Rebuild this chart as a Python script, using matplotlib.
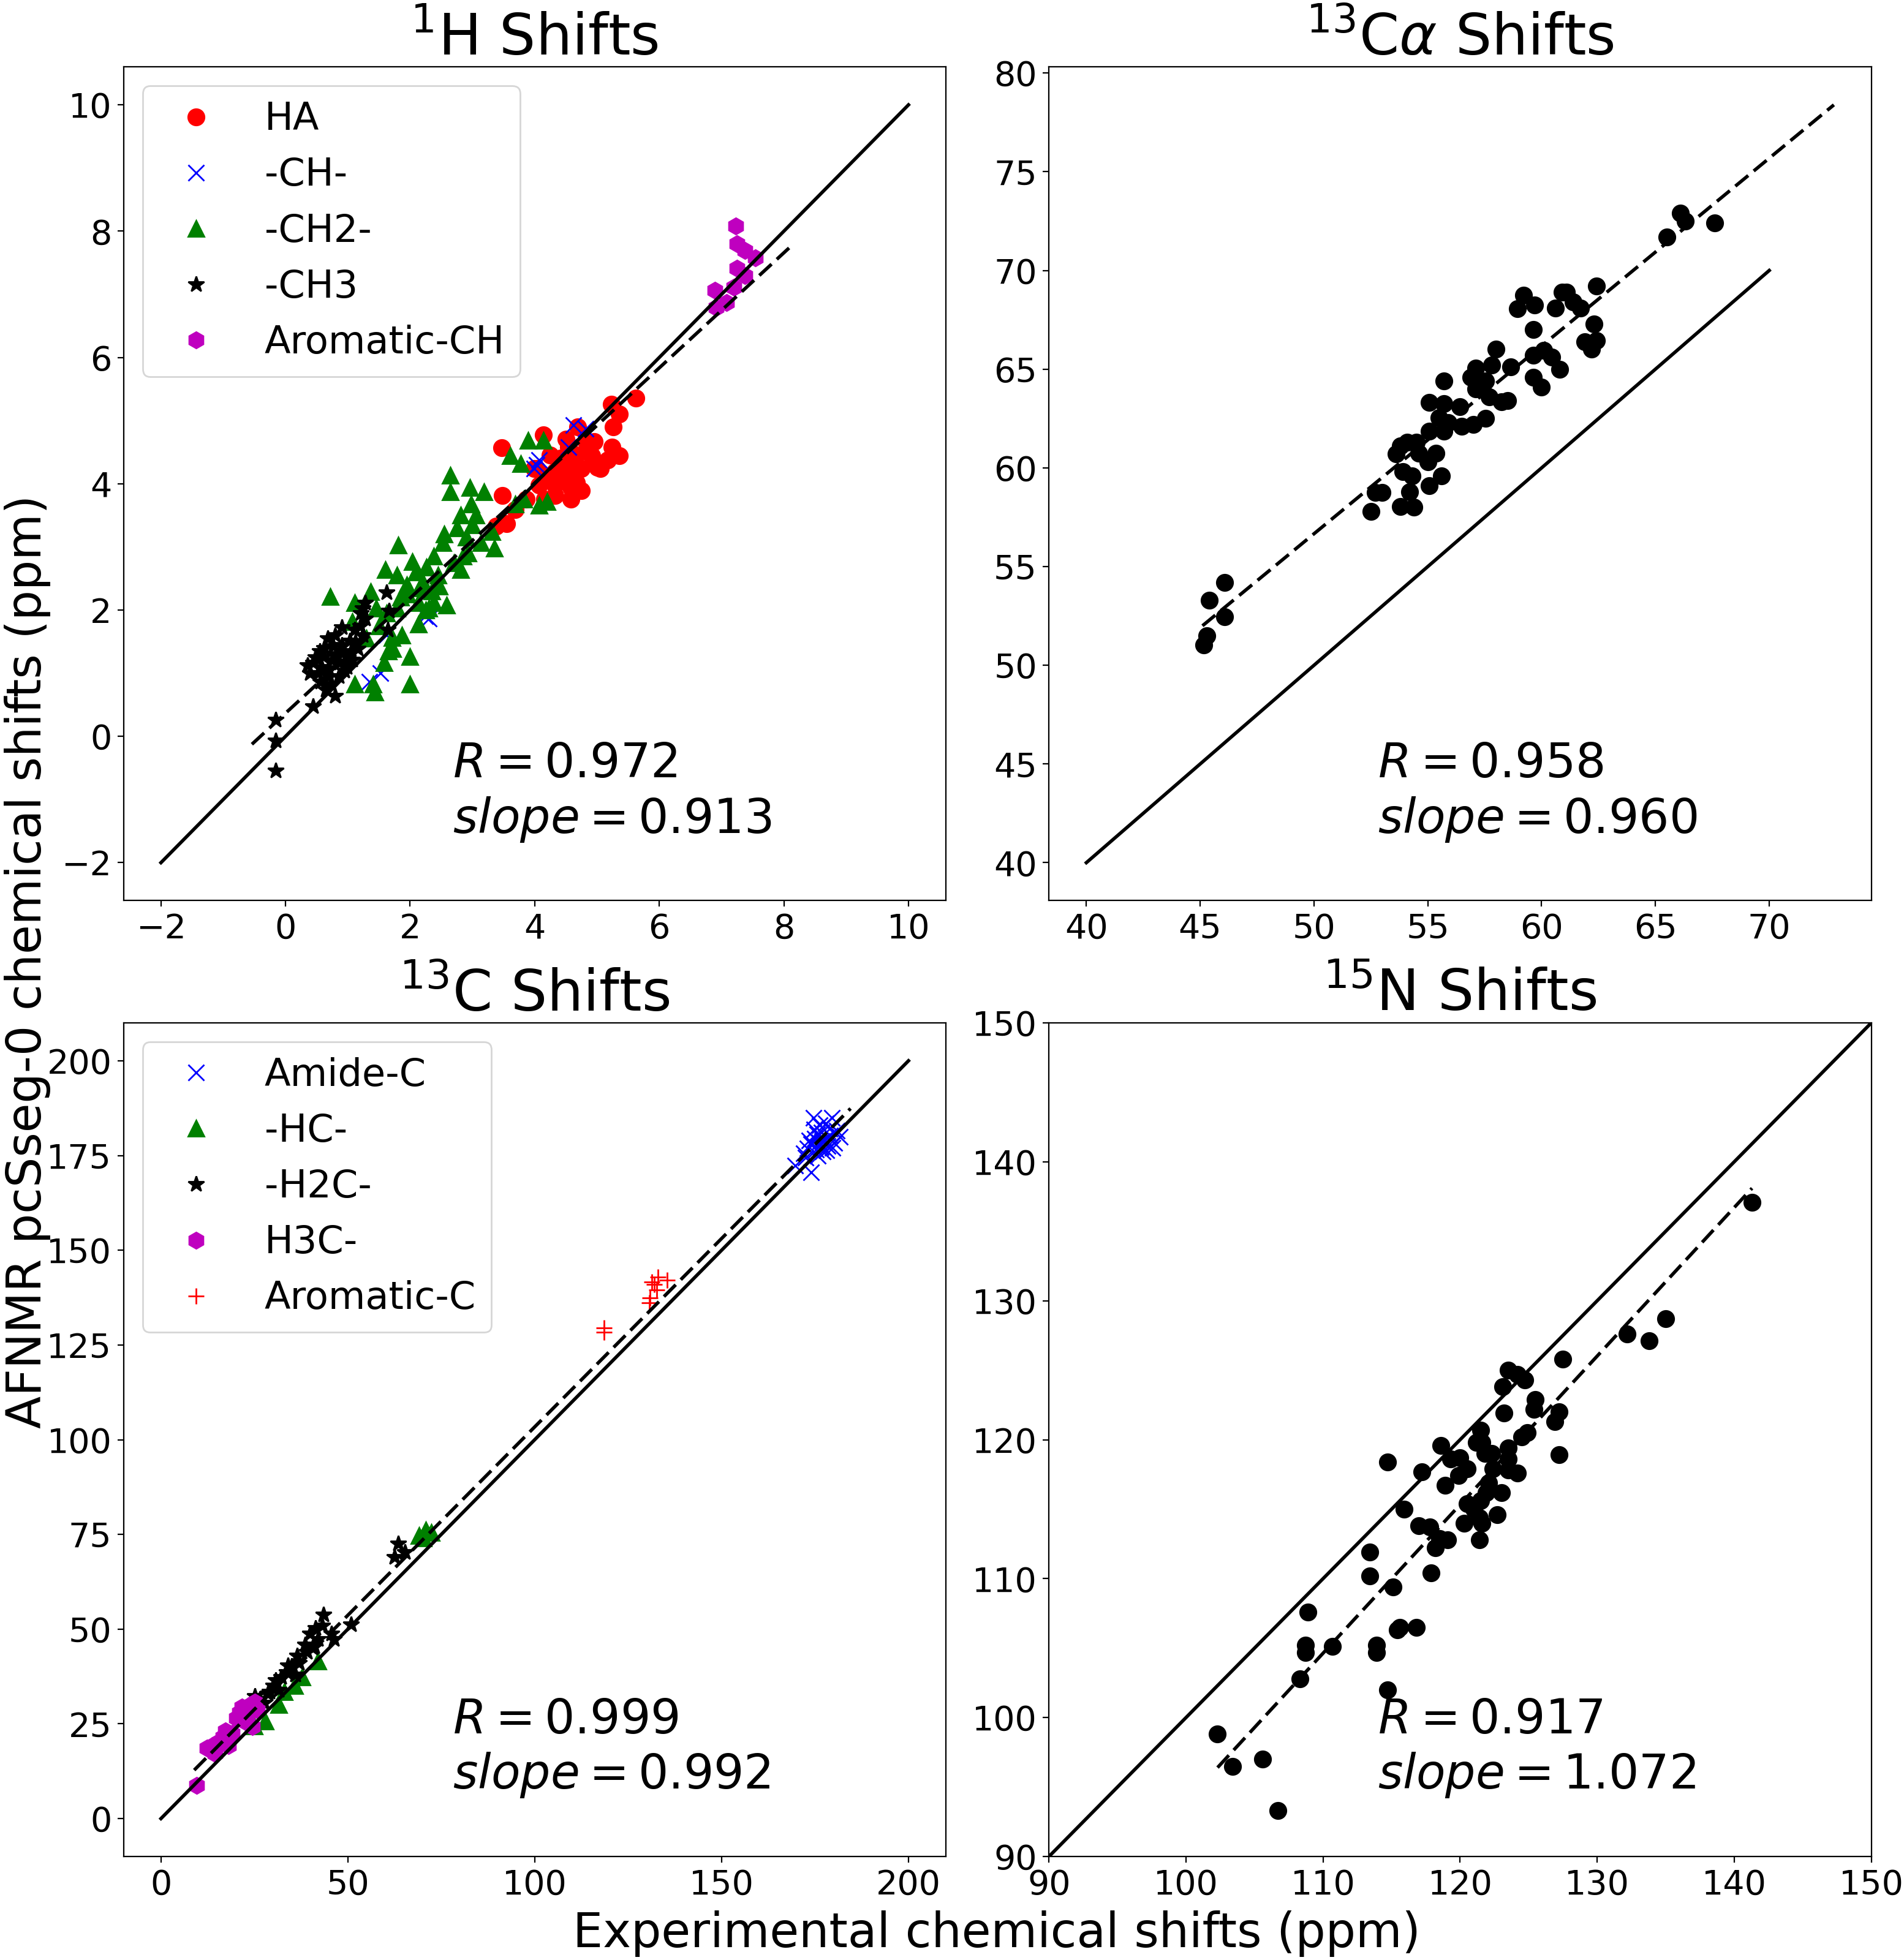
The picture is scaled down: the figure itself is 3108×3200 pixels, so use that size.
import matplotlib
matplotlib.use("Agg")
import matplotlib.pyplot as plt

# ---------------- data ----------------
# 1H panel
ha_x = [3.47, 4.14, 5.23, 5.62, 5.36, 5.26, 5.24, 5.36, 5.17, 5.05, 4.92, 4.84, 4.69, 4.67, 4.54, 4.41,
        4.33, 4.20, 4.07, 4.03, 4.54, 4.75, 4.58, 4.75, 4.58, 4.33, 4.16, 4.50, 4.67, 4.33, 4.25, 3.99,
        3.86, 3.48, 3.55, 3.38, 3.69, 4.96, 4.50, 4.37, 5.00]
ha_y = [4.57, 4.77, 5.26, 5.36, 5.10, 4.90, 4.58, 4.44, 4.38, 4.24, 4.44, 4.63, 4.90, 4.45, 4.58, 4.41,
        4.19, 4.11, 3.98, 4.24, 4.19, 4.24, 3.94, 3.89, 3.76, 3.81, 3.76, 4.32, 4.02, 3.98, 4.45, 4.24,
        3.76, 3.81, 3.37, 3.33, 3.59, 4.67, 4.71, 4.07, 4.26]
ch_x = [4.62, 4.82, 4.54, 4.07, 3.99, 4.03, 2.30, 1.35, 1.52, 1.62, 2.24]
ch_y = [4.93, 4.87, 4.58, 4.38, 4.24, 4.30, 1.86, 0.87, 1.00, 1.60, 1.90]
ch2_x = [3.89, 4.14, 3.61, 3.78, 2.64, 2.64, 2.96, 3.19, 2.98, 2.81, 3.06, 3.31, 3.14, 3.35, 2.93, 2.81,
         2.53, 2.38, 2.26, 2.03, 2.09, 1.81, 1.79, 1.60, 2.47, 2.38, 2.59, 2.13, 1.96, 1.79, 1.62, 1.45,
         1.37, 1.11, 0.72, 1.07, 1.71, 1.87, 2.00, 2.00, 1.43, 1.41, 1.11, 1.58, 1.72, 2.13, 2.30, 3.82,
         4.07, 4.20, 3.69, 2.20, 2.45, 2.70, 2.55, 2.35, 2.15, 1.95, 1.85, 2.75, 2.90, 3.00, 1.50, 1.30,
         1.65, 2.25, 2.85]
ch2_y = [4.69, 4.69, 4.44, 4.32, 4.13, 3.87, 3.94, 3.87, 3.68, 3.50, 3.50, 3.24, 3.07, 2.98, 2.90, 2.64,
         3.07, 2.85, 2.68, 2.77, 2.60, 3.03, 2.55, 2.64, 2.38, 2.12, 2.08, 2.12, 2.25, 2.03, 1.95, 2.03,
         2.29, 2.12, 2.21, 1.82, 1.56, 1.60, 1.26, 0.83, 0.70, 0.83, 0.83, 1.17, 1.39, 1.78, 2.03, 3.76,
         3.66, 3.72, 3.68, 2.45, 2.55, 2.75, 3.20, 2.30, 2.35, 2.40, 2.20, 3.30, 3.15, 3.35, 1.75, 1.55,
         1.35, 2.00, 2.85]
ch3_x = [-0.16, -0.16, -0.16, 0.44, 0.80, 1.28, 1.21, 1.62, 1.66, 1.64, 0.90, 0.44, 0.52, 0.61, 0.69,
         0.77, 0.86, 0.94, 1.03, 1.11, 1.16, 0.56, 0.73, 0.39, 0.94, 1.07, 1.24, 1.28, 0.65, 0.35, 1.24,
         0.48, 0.58, 0.70, 0.82, 0.90, 1.00, 1.12, 0.62, 0.75, 0.85, 0.98, 0.55, 0.68, 1.05, 1.20, 0.80]
ch3_y = [0.26, -0.07, -0.54, 0.48, 0.64, 2.12, 1.95, 2.28, 1.99, 1.69, 1.73, 1.17, 1.00, 1.26, 1.08,
         1.43, 1.17, 1.34, 1.52, 1.69, 1.39, 0.87, 0.83, 1.00, 1.04, 1.21, 1.60, 1.86, 0.74, 1.13, 2.03,
         1.25, 1.10, 0.95, 1.30, 1.45, 1.25, 1.50, 1.40, 1.20, 0.95, 1.10, 1.35, 1.55, 1.35, 1.75, 1.60]
aro_h_x = [7.23, 7.25, 7.37, 7.54, 7.25, 7.37, 6.89, 7.20, 7.08, 6.91]
aro_h_y = [8.08, 7.80, 7.69, 7.58, 7.41, 7.30, 7.06, 7.11, 6.87, 6.79]
h_fit_x = [-0.54, 8.09]
h_fit_y = [-0.125, 7.74]
h_ident = [-2, 10]
h_R, h_slope = 0.972, 0.913

# 13C-alpha panel
ca_x = [45.16, 45.3, 45.4, 46.07, 46.07, 52.5, 52.7, 53.0, 53.8, 54.4, 54.2, 55.05, 55.6, 53.9, 54.3,
        53.6, 53.8, 54.1, 54.5, 54.6, 55.0, 55.35, 55.05, 55.7, 55.9, 56.5, 57.0, 57.55, 55.5, 55.05,
        55.7, 56.4, 55.7, 57.7, 58.25, 58.5, 56.9, 57.1, 57.8, 58.0, 57.1, 57.55, 58.65, 59.65, 60.1,
        60.45, 59.65, 60.0, 60.8, 58.95, 59.2, 59.7, 59.65, 60.6, 60.9, 61.1, 61.4, 61.7, 62.4, 62.3,
        61.9, 62.4, 62.2, 65.5, 66.1, 66.3, 67.6]
ca_y = [51.03, 51.5, 53.3, 54.2, 52.47, 57.8, 58.75, 58.75, 58.05, 58.0, 58.8, 59.1, 59.6, 59.8, 59.6,
        60.7, 61.1, 61.3, 61.3, 60.75, 60.3, 60.75, 61.85, 61.85, 62.3, 62.1, 62.2, 62.5, 62.55, 63.3,
        63.25, 63.1, 64.4, 63.6, 63.35, 63.4, 64.6, 65.05, 65.2, 66.0, 64.0, 64.4, 65.1, 65.7, 65.95,
        65.6, 64.6, 64.1, 65.0, 68.05, 68.75, 68.25, 67.0, 68.1, 68.9, 68.9, 68.4, 68.1, 69.2, 67.3,
        66.4, 66.45, 66.0, 71.7, 72.9, 72.5, 72.4]
ca_fit_x = [45.1, 72.84]
ca_fit_y = [52.0, 78.39]
ca_ident = [40, 70]
ca_R, ca_slope = 0.958, 0.960

# 13C panel
amide_x = [176.0, 169.7, 173.9, 179.5, 181.7, 174.6, 175.2, 176.8, 177.5, 178.3, 174.0, 175.5, 177.0,
           178.8, 176.3, 173.0, 172.5, 180.2, 179.0, 175.8, 177.8, 174.8, 176.5, 178.0, 172.0, 180.8,
           175.0, 176.9, 173.5, 179.6]
amide_y = [178.4, 172.4, 170.5, 184.9, 179.9, 184.9, 176.5, 181.0, 179.2, 177.5, 178.0, 180.5, 176.0,
           182.0, 183.0, 176.8, 174.5, 178.3, 180.2, 175.0, 183.5, 181.8, 177.2, 176.3, 175.6, 181.5,
           179.5, 178.8, 179.0, 177.0]
hc_x = [69.1, 70.9, 72.4, 70.2, 31.5, 27.9, 37.8, 42.0, 35.7, 33.0, 25.0]
hc_y = [74.7, 76.2, 75.5, 74.0, 30.1, 25.8, 37.3, 41.6, 35.1, 33.5, 24.5]
h2c_x = [63.5, 62.5, 65.3, 43.4, 43.2, 50.8, 39.9, 46.3, 40.6, 36.4, 35.0, 32.2, 30.0, 28.6, 26.5, 25.1,
         33.6, 30.7, 38.5, 42.0, 41.3, 45.6, 29.0, 31.5, 34.0, 37.0, 39.0, 27.5, 36.0, 41.0]
h2c_y = [72.6, 69.0, 70.4, 53.9, 51.0, 51.3, 48.8, 47.4, 45.2, 43.1, 40.2, 37.3, 35.1, 33.0, 31.5, 32.3,
         38.7, 36.6, 45.9, 47.4, 50.3, 48.8, 33.5, 34.0, 40.5, 41.0, 44.0, 30.5, 38.0, 45.5]
h3c_x = [9.6, 13.8, 14.5, 17.3, 18.1, 21.6, 23.0, 24.4, 22.3, 20.2, 25.8, 25.1, 16.6, 12.4, 19.0, 21.0,
         23.8, 15.5]
h3c_y = [8.8, 19.3, 17.1, 23.2, 19.3, 29.4, 27.2, 24.3, 25.8, 26.5, 28.7, 30.8, 21.5, 18.6, 22.5, 28.0,
         30.0, 20.2]
aro_c_x = [118.5, 118.5, 130.6, 130.9, 131.3, 132.6, 133.0, 135.4, 132.0]
aro_c_y = [128.3, 129.5, 136.2, 137.4, 141.7, 139.5, 142.9, 142.1, 141.0]
c_fit_x = [8.9, 184.5]
c_fit_y = [12.8, 187.4]
c_ident = [0, 200]
c_R, c_slope = 0.999, 0.992

# 15N panel
n_x = [141.3, 135.0, 133.8, 132.2, 127.5, 123.5, 124.2, 124.7, 123.1, 125.5, 125.4, 123.2, 127.2, 126.9,
       124.5, 124.9, 127.2, 121.5, 121.2, 121.6, 121.8, 122.3, 123.5, 123.5, 123.5, 124.2, 122.4, 118.6,
       119.3, 120.0, 119.9, 120.5, 117.2, 114.7, 118.9, 122.1, 121.9, 123.0, 121.5, 120.5, 121.0, 121.4,
       122.7, 121.6, 120.3, 121.4, 115.9, 117.0, 117.8, 119.1, 118.5, 118.2, 113.4, 113.4, 117.9, 115.1,
       108.9, 108.7, 108.7, 110.7, 108.3, 113.9, 113.9, 115.4, 115.6, 116.8, 114.7, 102.3, 103.4, 105.6,
       106.7]
n_y = [137.1, 128.7, 127.1, 127.6, 125.8, 125.0, 124.7, 124.3, 123.8, 122.9, 122.2, 121.9, 122.0, 121.3,
       120.2, 120.5, 118.9, 120.7, 119.8, 119.8, 119.0, 119.0, 119.4, 118.6, 117.8, 117.6, 117.9, 119.6,
       118.6, 118.7, 117.4, 117.9, 117.7, 118.4, 116.7, 116.9, 116.2, 116.2, 115.6, 115.4, 115.0, 114.4,
       114.6, 114.0, 114.0, 112.8, 115.0, 113.8, 113.7, 112.8, 112.9, 112.2, 111.9, 110.2, 110.4, 109.4,
       107.6, 105.2, 104.7, 105.1, 102.8, 105.2, 104.7, 106.3, 106.5, 106.5, 102.0, 98.8, 96.5, 97.0,
       93.3]
n_fit_x = [102.3, 141.3]
n_fit_y = [96.4, 138.1]
n_ident = [90, 150]
n_R, n_slope = 0.917, 1.072

titles = [r'$^{1}$H Shifts', r'$^{13}$C$\alpha$ Shifts', r'$^{13}$C Shifts', r'$^{15}$N Shifts']
xlabel = 'Experimental chemical shifts (ppm)'
ylabel = 'AFNMR pcSseg-0 chemical shifts (ppm)'

# ---------------- figure ----------------
W, H = 3108, 3200
fig = plt.figure(figsize=(W / 200, H / 200), dpi=200)

ax_w, ax_h = 1342.3 / W, 1361 / H
lefts = [201.7 / W, 1712.3 / W]
bottoms = [1 - 1470.3 / H, 1 - 3031 / H]
axes = [fig.add_axes([lefts[0], bottoms[0], ax_w, ax_h]),
        fig.add_axes([lefts[1], bottoms[0], ax_w, ax_h]),
        fig.add_axes([lefts[0], bottoms[1], ax_w, ax_h]),
        fig.add_axes([lefts[1], bottoms[1], ax_w, ax_h])]

MS = 9.5
TICK_FS = 20
LEG_FS = 22.4
TXT_FS = 28
TITLE_FS = 33.6
LAB_FS = 28


def pts(ax, x, y, marker, color, label=None):
    ax.plot(x, y, linestyle='none', marker=marker, color=color, markersize=MS, label=label)


def finish(ax, ident, fx, fy, R, slope, title, legend):
    ax.plot(ident, ident, color='k', linewidth=2)
    ax.plot(fx, fy, color='k', linestyle='--', linewidth=2, dashes=(4.9, 2.1))
    ax.text(0.4, 0.068, '$R = %.3f$\n$slope = %.3f$' % (R, slope), transform=ax.transAxes,
            fontsize=TXT_FS, ha='left', va='bottom')
    ax.set_title(title, fontsize=TITLE_FS)
    ax.tick_params(labelsize=TICK_FS)
    if legend:
        ax.legend(loc='upper left', fontsize=LEG_FS, numpoints=1)


ax = axes[0]
pts(ax, ha_x, ha_y, 'o', 'r', 'HA')
pts(ax, ch_x, ch_y, 'x', 'b', '-CH-')
pts(ax, ch2_x, ch2_y, '^', 'g', '-CH2-')
pts(ax, ch3_x, ch3_y, '*', 'k', '-CH3')
pts(ax, aro_h_x, aro_h_y, 'h', 'm', 'Aromatic-CH')
finish(ax, h_ident, h_fit_x, h_fit_y, h_R, h_slope, titles[0], True)

ax = axes[1]
pts(ax, ca_x, ca_y, 'o', 'k')
finish(ax, ca_ident, ca_fit_x, ca_fit_y, ca_R, ca_slope, titles[1], False)

ax = axes[2]
pts(ax, amide_x, amide_y, 'x', 'b', 'Amide-C')
pts(ax, hc_x, hc_y, '^', 'g', '-HC-')
pts(ax, h2c_x, h2c_y, '*', 'k', '-H2C-')
pts(ax, h3c_x, h3c_y, 'h', 'm', 'H3C-')
pts(ax, aro_c_x, aro_c_y, '+', 'r', 'Aromatic-C')
finish(ax, c_ident, c_fit_x, c_fit_y, c_R, c_slope, titles[2], True)

ax = axes[3]
pts(ax, n_x, n_y, 'o', 'k')
finish(ax, n_ident, n_fit_x, n_fit_y, n_R, n_slope, titles[3], False)
ax.set_xlim(n_ident)
ax.set_ylim(n_ident)

ax_center_x = (201.7 + 3052.7) / 2 / W
ax_center_y = 1 - (109.3 + 3031) / 2 / H
fig.text(ax_center_x, 1 - 3179 / H, xlabel, fontsize=LAB_FS, ha='center', va='baseline')
fig.text(45 / W, ax_center_y, ylabel, fontsize=LAB_FS, ha='center', va='center', rotation=90)

fig.savefig('out.png', dpi=200)
